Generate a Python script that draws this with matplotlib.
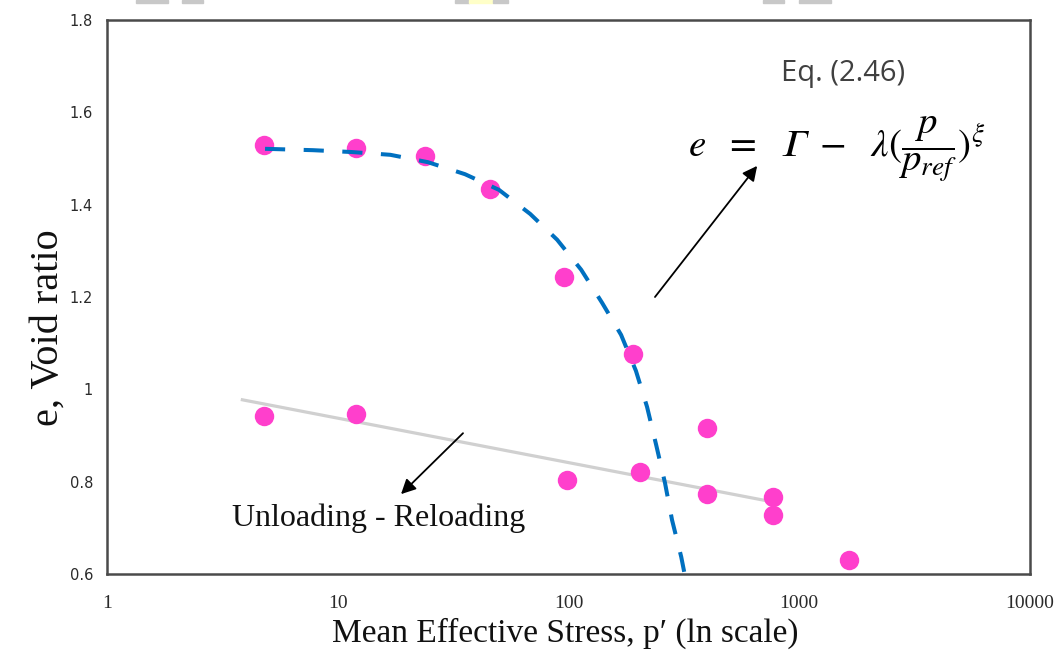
import matplotlib
matplotlib.use("Agg")
import matplotlib.pyplot as plt
from matplotlib.patches import Rectangle

# Loading branch (void ratio vs mean effective stress)
load_p = [4.8, 12.0, 23.9, 45.7, 95.7, 190.6]
load_e = [1.529, 1.523, 1.505, 1.434, 1.243, 1.077]

# Unloading / reloading measurements
unload_p = [4.8, 12.0, 99.0, 205.0, 400.0, 398.0, 766.0, 766.0, 1645.0]
unload_e = [0.942, 0.947, 0.804, 0.821, 0.916, 0.773, 0.767, 0.728, 0.630]

# Trend line through unloading-reloading data
ur_line_p = [3.8, 770.0]
ur_line_e = [0.978, 0.756]

# Fitted curve, Eq. (2.46)
fit_p = [4.84, 7.82, 11.5, 16.9, 24.6, 35.6, 50.0, 68.2, 89.3, 113.5,
         140.0, 169.0, 196.0, 219.0, 240.0, 262.0, 281.0, 308.0, 320.0]
fit_e = [1.521, 1.518, 1.514, 1.508, 1.492, 1.466, 1.432, 1.380, 1.324, 1.259,
         1.187, 1.118, 1.040, 0.962, 0.879, 0.797, 0.717, 0.637, 0.595]

x_ticks = [1, 10, 100, 1000, 10000]
x_tick_labels = ["1", "10", "100", "1000", "10000"]
y_ticks = [0.6, 0.8, 1.0, 1.2, 1.4, 1.6, 1.8]
y_tick_labels = ["0.6", "0.8", "1", "1.2", "1.4", "1.6", "1.8"]

plt.rcParams["mathtext.fontset"] = "stix"

W, H = 1061, 653
fig = plt.figure(figsize=(W / 100, H / 100), dpi=100)
fig.patch.set_facecolor("white")

L, R, T, B = 107, 1030, 20, 574
ax = fig.add_axes([L / W, 1 - B / H, (R - L) / W, (B - T) / H])

ax.set_xscale("log")
ax.set_xlim(1, 10000)
ax.set_ylim(0.6, 1.8)

ax.plot(ur_line_p, ur_line_e, color="#d0d0d0", lw=2.3, solid_capstyle="butt", zorder=2)
ax.plot(fit_p, fit_e, color="#0070c0", lw=2.9, dashes=(5, 4.6), zorder=3)
ax.plot(load_p, load_e, "o", color="#ff3fcc", ms=14, mec="none", zorder=2.5)
ax.plot(unload_p, unload_e, "o", color="#ff3fcc", ms=14, mec="none", zorder=2.5)

ax.set_xticks(x_ticks)
ax.set_xticklabels(x_tick_labels)
ax.set_yticks(y_ticks)
ax.set_yticklabels(y_tick_labels)
ax.minorticks_off()
ax.tick_params(axis="both", length=0, colors="#2a2a2a", labelsize=10.5)
ax.tick_params(axis="x", pad=15)
ax.tick_params(axis="y", pad=10)
for lab in ax.get_xticklabels():
    lab.set_fontfamily("Liberation Serif")
    lab.set_fontsize(14)

for sp in ax.spines.values():
    sp.set_color("#4a4a4a")
    sp.set_linewidth(1.8)

# Axis titles
fig.text(48 / W, 1 - 328 / H, "e, Void ratio", fontfamily="Liberation Serif",
         fontsize=29, color="#111111", rotation=90, ha="center", va="center")
fig.text(565 / W, 1 - 633 / H, "Mean Effective Stress, p\u2032 (ln scale)",
         fontfamily="Liberation Serif", fontsize=24, color="#111111",
         ha="center", va="center")

# Equation annotation
ax.text(1550, 1.685, "Eq. (2.46)", fontfamily="Open Sans", fontsize=21,
        color="#404040", ha="center", va="center")
ax.text(1445, 1.52,
        r"$e\ \ =\ \ 𝛤\ -\ \ \lambda(\dfrac{p}{p_{ref}})^{\xi}$",
        fontsize=28, color="black", ha="center", va="center")
ax.annotate("", xy=(657, 1.484), xytext=(237, 1.200),
            arrowprops=dict(arrowstyle="-|>", mutation_scale=22, lw=1.3,
                            color="black", shrinkA=0, shrinkB=0))

# Unloading-reloading annotation
ax.text(3.48, 0.721, "Unloading - Reloading", fontfamily="Liberation Serif",
        fontsize=23, color="#111111", ha="left", va="center")
ax.annotate("", xy=(18.8, 0.773), xytext=(34.9, 0.905),
            arrowprops=dict(arrowstyle="-|>", mutation_scale=22, lw=1.3,
                            color="black", shrinkA=0, shrinkB=0))

# Header strip fragments along the top edge
strip = [(136, 168, "#c8c8c8"), (182, 203, "#c8c8c8"), (455, 469, "#c8c8c8"),
         (469, 493, "#ffffc8"), (493, 508, "#c8c8c8"), (763, 784, "#c8c8c8"),
         (799, 831, "#c8c8c8")]
for x0, x1, c in strip:
    fig.patches.append(Rectangle((x0 / W, 1 - 3 / H), (x1 - x0) / W, 3 / H,
                                 transform=fig.transFigure, color=c, zorder=0))

fig.savefig("out.png", dpi=100)
